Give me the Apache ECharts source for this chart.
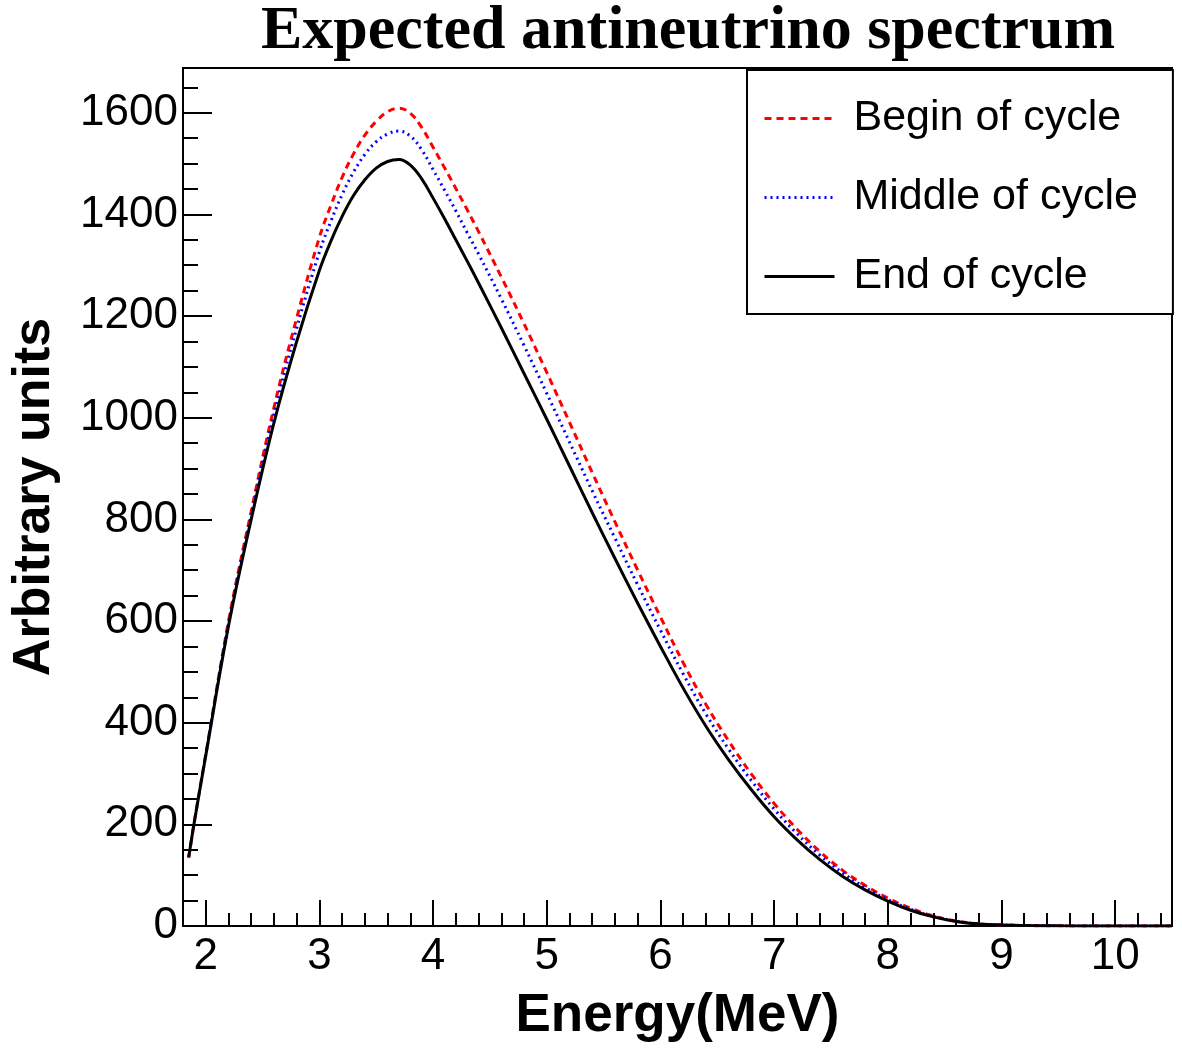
<!DOCTYPE html>
<html>
<head>
<meta charset="utf-8">
<script src="https://cdn.jsdelivr.net/npm/echarts@6/dist/echarts.min.js"></script>
<style>
html, body { margin: 0; padding: 0; background: #fff; }
#main { width: 1182px; height: 1050px; }
</style>
</head>
<body>
<div id="main"></div>
<script>
// energy points (MeV)
var energy = [1.85, 1.9, 2.0, 2.2, 2.4, 2.6, 2.8, 3.0, 3.1, 3.2, 3.3, 3.4, 3.5, 3.6, 3.7, 3.8, 3.9, 4.0, 4.1, 4.2, 4.3, 4.4,
    4.6, 4.8, 5.0, 5.2, 5.4, 5.6, 5.8, 6.0, 6.2, 6.4, 6.6, 6.8, 7.0, 7.2, 7.4, 7.6, 7.8, 8.0, 8.2, 8.4, 8.6, 8.8, 9.0,
    9.25, 9.5, 10.0, 10.5];

// begin of cycle
var beginCycle = [135, 206, 338, 599, 816, 1020, 1196, 1355, 1417, 1473, 1519, 1556, 1583, 1602, 1609, 1599, 1571, 1532, 1492, 1451, 1409, 1366,
    1277, 1185, 1089, 991, 892, 795, 700, 608, 518, 436, 364, 299, 241, 191, 147, 110, 80, 55, 35, 20, 10, 4.5, 2.2,
    0.9, 0.3, 0.1, 0];

// middle of cycle
var middleCycle = [135, 205, 336, 595, 809, 1007, 1176, 1326, 1386, 1439, 1483, 1518, 1543, 1558, 1564, 1554, 1527, 1488, 1448, 1407, 1364, 1322,
    1234, 1142, 1048, 952, 856, 763, 671, 582, 496, 417, 348, 286, 230, 182, 140, 105, 76, 52, 33, 19, 9.5, 4.2, 2.1,
    0.85, 0.3, 0.1, 0];

// end of cycle
var endCycle = [135, 205, 335, 590, 800, 990, 1150, 1290, 1347, 1396, 1437, 1468, 1491, 1504, 1508, 1497, 1470, 1432, 1392, 1350, 1308, 1265,
    1177, 1087, 997, 905, 813, 723, 635, 550, 468, 393, 327, 268, 215, 170, 131, 98, 71, 49, 31, 18, 9, 4, 2,
    0.8, 0.3, 0.1, 0];

// tick values
var xMajor = [2, 3, 4, 5, 6, 7, 8, 9, 10];
var xMinor = [2.2, 2.4, 2.6, 2.8, 3.2, 3.4, 3.6, 3.8, 4.2, 4.4, 4.6, 4.8, 5.2, 5.4, 5.6, 5.8, 6.2, 6.4, 6.6, 6.8,
    7.2, 7.4, 7.6, 7.8, 8.2, 8.4, 8.6, 8.8, 9.2, 9.4, 9.6, 9.8, 10.2, 10.4];
var yMajor = [0, 200, 400, 600, 800, 1000, 1200, 1400, 1600];
var yMinor = [50, 100, 150, 250, 300, 350, 450, 500, 550, 650, 700, 750, 850, 900, 950, 1050, 1100, 1150,
    1250, 1300, 1350, 1450, 1500, 1550, 1650];

function pairs(xs, ys) {
    var out = [];
    for (var i = 0; i < xs.length; i++) {
        out.push([xs[i], ys[i]]);
    }
    return out;
}

var myChart = echarts.init(document.getElementById('main'));

var option = {
    backgroundColor: '#fff',
    animation: false,
    title: {
        text: 'Expected antineutrino spectrum',
        left: 256,
        top: -4,
        textStyle: {
            fontFamily: 'Liberation Serif',
            fontWeight: 'bold',
            fontSize: 62,
            color: '#000'
        }
    },
    grid: {
        left: 183,
        top: 68,
        right: 10,
        bottom: 124,
        show: true,
        borderColor: '#000',
        borderWidth: 2,
        backgroundColor: 'transparent'
    },
    legend: {
        orient: 'vertical',
        left: 747,
        top: 70,
        itemWidth: 70,
        itemHeight: 20,
        itemGap: 36,
        padding: [27, 35, 16, 16],
        borderColor: '#000',
        borderWidth: 2,
        backgroundColor: '#fff',
        itemStyle: { opacity: 0 },
        lineStyle: { width: 3 },
        textStyle: {
            fontFamily: 'Liberation Sans',
            fontSize: 43,
            color: '#000',
            padding: [0, 0, 0, 14]
        },
        data: ['Begin of cycle', 'Middle of cycle', 'End of cycle']
    },
    xAxis: [{
        type: 'value',
        min: 1.8,
        max: 10.5,
        name: 'Energy(MeV)',
        nameLocation: 'middle',
        nameGap: 64,
        nameTextStyle: {
            fontFamily: 'Liberation Sans',
            fontWeight: 'bold',
            fontSize: 53,
            color: '#000'
        },
        axisLine: { show: true, lineStyle: { color: '#000', width: 2 } },
        axisTick: { show: true, inside: true, length: 26, customValues: xMajor, lineStyle: { color: '#000', width: 2 } },
        axisLabel: { customValues: xMajor, fontFamily: 'Liberation Sans', fontSize: 44, color: '#000', margin: 9 },
        splitLine: { show: false }
    }, {
        type: 'value',
        min: 1.8,
        max: 10.5,
        position: 'bottom',
        axisLine: { show: false },
        axisTick: { show: true, inside: true, length: 13, customValues: xMinor, lineStyle: { color: '#000', width: 2 } },
        axisLabel: { show: false },
        splitLine: { show: false }
    }],
    yAxis: [{
        type: 'value',
        min: 0,
        max: 1688,
        name: 'Arbitrary units',
        nameLocation: 'middle',
        nameGap: 122,
        nameTextStyle: {
            fontFamily: 'Liberation Sans',
            fontWeight: 'bold',
            fontSize: 52,
            color: '#000'
        },
        axisLine: { show: true, lineStyle: { color: '#000', width: 2 } },
        axisTick: { show: true, inside: true, length: 29, customValues: yMajor, lineStyle: { color: '#000', width: 2 } },
        axisLabel: {
            customValues: yMajor,
            formatter: function(v) { return String(v); },
            fontFamily: 'Liberation Sans',
            fontSize: 44,
            color: '#000',
            margin: 5
        },
        splitLine: { show: false }
    }, {
        type: 'value',
        min: 0,
        max: 1688,
        position: 'left',
        axisLine: { show: false },
        axisTick: { show: true, inside: true, length: 15, customValues: yMinor, lineStyle: { color: '#000', width: 2 } },
        axisLabel: { show: false },
        splitLine: { show: false }
    }],
    series: [{
        name: 'Begin of cycle',
        type: 'line',
        data: pairs(energy, beginCycle),
        smooth: 0.4,
        symbol: 'none',
        color: '#ff0000',
        lineStyle: { color: '#ff0000', width: 3, type: [7, 5] }
    }, {
        name: 'Middle of cycle',
        type: 'line',
        data: pairs(energy, middleCycle),
        smooth: 0.4,
        symbol: 'none',
        color: '#0000ff',
        lineStyle: { color: '#0000ff', width: 3, type: [2, 4] }
    }, {
        name: 'End of cycle',
        type: 'line',
        data: pairs(energy, endCycle),
        smooth: 0.4,
        symbol: 'none',
        color: '#000',
        lineStyle: { color: '#000', width: 3 }
    }]
};

myChart.setOption(option);
</script>
</body>
</html>
